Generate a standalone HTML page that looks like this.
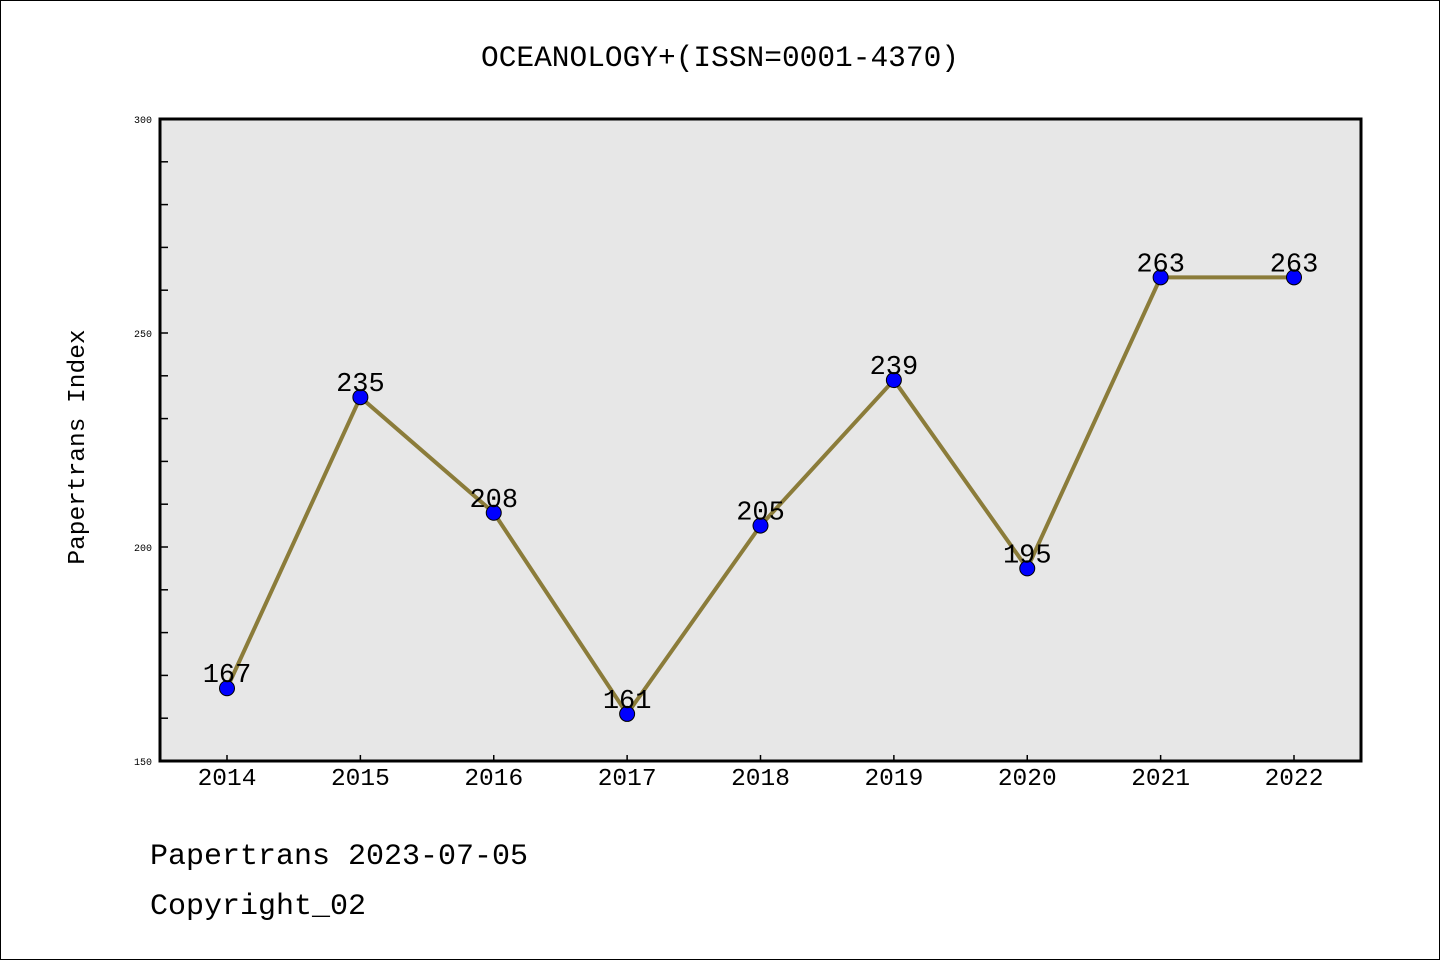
<!DOCTYPE html>
<html><head><meta charset="utf-8"><style>
html,body{margin:0;padding:0;background:#fff;}
svg{display:block;font-family:"Liberation Mono","Noto Sans CJK SC",monospace;}
</style></head><body>
<svg id="chart" width="1440" height="960">
<rect x="0.5" y="0.5" width="1439" height="959" fill="#fff" stroke="#000" stroke-width="1"/>
<text x="720" y="66" text-anchor="middle" font-size="29.5">OCEANOLOGY+(ISSN=0001-4370)</text>
<rect x="160" y="119" width="1201" height="642" fill="#e7e7e7"/>
<g id="marks"></g>
<rect x="160" y="119" width="1201" height="642" fill="none" stroke="#000" stroke-width="3"/>
<text transform="translate(84,447) rotate(-90)" text-anchor="middle" font-size="24.5">Papertrans Index</text>
<text x="150" y="864" font-size="30">Papertrans 2023-07-05</text>
<text x="150" y="914" font-size="30">Copyright_02</text>
</svg>
<script>
const years=["2014","2015","2016","2017","2018","2019","2020","2021","2022"];
const values=[167,235,208,161,205,239,195,263,263];
const yTicks=[150,200,250,300];
const NS="http://www.w3.org/2000/svg";
const x0=227,x1=1294,yTop=119,yBot=761,yMin=150,yMax=300;
function xs(i){return x0+(x1-x0)*i/(years.length-1);}
function ys(v){return yBot-(v-yMin)/(yMax-yMin)*(yBot-yTop);}
const g=document.getElementById('marks');
function mk(t,a){const e=document.createElementNS(NS,t);for(const k in a)e.setAttribute(k,a[k]);g.appendChild(e);return e;}
for(let v=yMin+10;v<yMax;v+=10){const l=mk('line',{x1:160,x2:168,y1:ys(v),y2:ys(v),stroke:'#000','stroke-width':1.5});

}
yTicks.forEach(v=>{const t=mk('text',{x:152,y:ys(v)+4,'text-anchor':'end','font-size':10});t.textContent=v;

});
years.forEach((y,i)=>{const l=mk('line',{x1:xs(i),x2:xs(i),y1:yBot,y2:yBot-6,stroke:'#000','stroke-width':1.5});


const t=mk('text',{x:xs(i),y:785,'text-anchor':'middle','font-size':24.5});t.textContent=y;

});
const pl=mk('polyline',{points:values.map((v,i)=>xs(i)+','+ys(v)).join(' '),fill:'none',stroke:'#8b7c3a','stroke-width':4});


values.forEach((v,i)=>{const c=mk('circle',{cx:xs(i),cy:ys(v),r:7.5,fill:'#0000ff',stroke:'#000','stroke-width':1});

});
values.forEach((v,i)=>{const t=mk('text',{x:xs(i),y:ys(v)-6,'text-anchor':'middle','font-size':27});t.textContent=v;

});
</script>
</body></html>
